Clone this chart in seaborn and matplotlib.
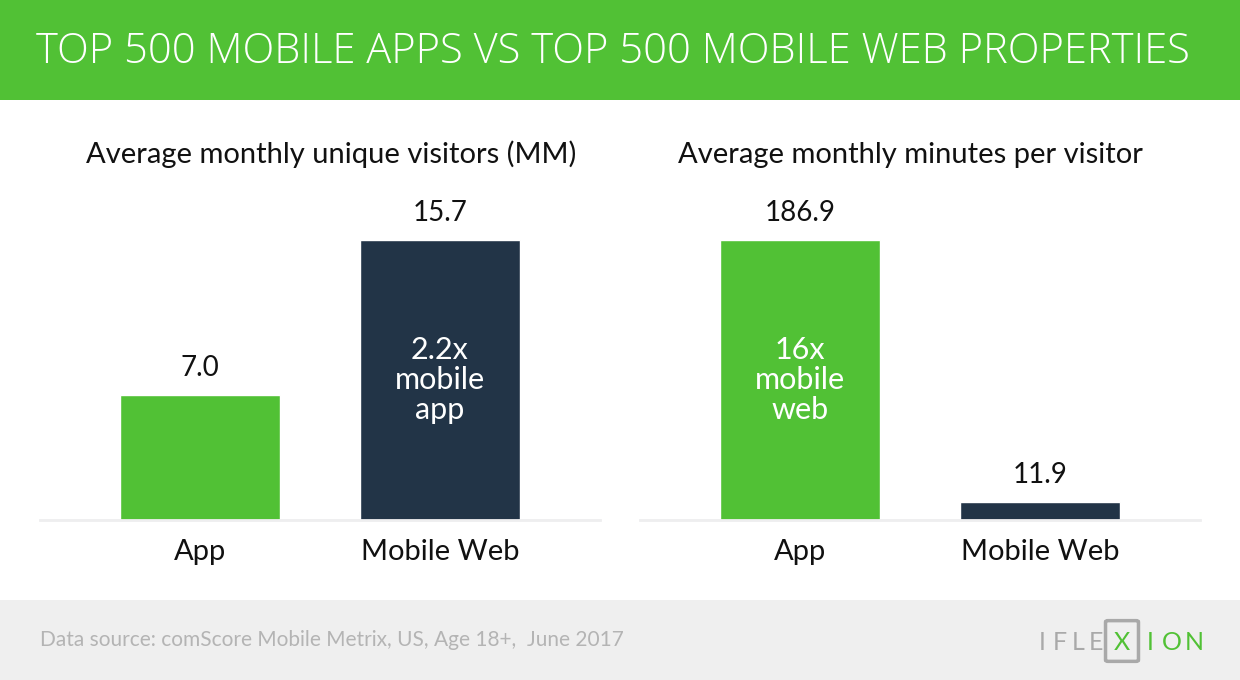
import matplotlib
matplotlib.use("Agg")
import matplotlib.pyplot as plt
from matplotlib.patches import Rectangle, FancyBboxPatch
import seaborn as sns

# data
categories = ["App", "Mobile Web"]
visitors_mm = [7.0, 15.7]
minutes_per_visitor = [186.9, 11.9]
panel_titles = ["Average monthly unique visitors (MM)", "Average monthly minutes per visitor"]
inner_notes = ["2.2x\nmobile\napp", "16x\nmobile\nweb"]
main_title = "TOP 500 MOBILE APPS VS TOP 500 MOBILE WEB PROPERTIES"
source_note = "Data source: comScore Mobile Metrix, US, Age 18+,  June 2017"

GREEN = "#51c135"
NAVY = "#223447"
FOOTER_BG = "#efefef"

sns.set_theme(style="white")
plt.rcParams["font.family"] = ["Lato", "DejaVu Sans"]

fig = plt.figure(figsize=(12.4, 6.8), dpi=100)
fig.patch.set_facecolor("white")

# header band and footer band
fig.patches.append(Rectangle((0, 1 - 100 / 680), 1, 100 / 680, transform=fig.transFigure,
                             facecolor=GREEN, edgecolor="none", zorder=0))
fig.patches.append(Rectangle((0, 0), 1, 80 / 680, transform=fig.transFigure,
                             facecolor=FOOTER_BG, edgecolor="none", zorder=0))

fig.text(0.494, 1 - 52 / 680, main_title, color="white", fontsize=30, fontweight=300,
         family=["Open Sans", "Lato", "DejaVu Sans"], ha="center", va="center")

panels = [
    (40, visitors_mm, 19.06, 1, inner_notes[0], panel_titles[0], 0.5 + 11 / 560),
    (640, minutes_per_visitor, 227.0, 0, inner_notes[1], panel_titles[1], 0.5 - 10 / 560),
]

for left_px, values, ymax, note_idx, note, title, title_x in panels:
    ax = fig.add_axes([left_px / 1240, 160 / 680, 560 / 1240, 340 / 680])
    sns.barplot(x=categories, y=values, hue=categories, palette=[GREEN, NAVY],
                width=0.667, legend=False, ax=ax, saturation=1)
    ax.set_xlim(-0.667, 1.667)
    ax.set_ylim(0, ymax)
    ax.set_facecolor("none")
    for side in ["top", "right", "left"]:
        ax.spines[side].set_visible(False)
    ax.spines["bottom"].set_color("#eeeeef")
    ax.spines["bottom"].set_linewidth(2)
    ax.set_yticks([])
    ax.set_ylabel("")
    ax.tick_params(axis="x", length=0, pad=14, labelsize=21, labelcolor="#111111")
    for c in ax.containers:
        ax.bar_label(c, fmt="%.1f", padding=10, fontsize=20, color="#111111")
    ax.text(note_idx, values[note_idx] / 2, note, color="white", fontsize=22,
            ha="center", va="center", linespacing=1.08)
    ax.set_title(title, fontsize=21, color="#111111", pad=0, x=title_x, y=1.0 + 17 / 340)

# footer
fig.text(40 / 1240, 40 / 680, source_note, color="#b4b4b4", fontsize=15, ha="left", va="center")

# logo
logo_y = 38 / 680
for i, ch in enumerate("IFLE"):
    fig.text((1042 + i * 18) / 1240, logo_y, ch, color="#a9a9a9", fontsize=18, ha="center", va="center")
fig.patches.append(FancyBboxPatch((1108 / 1240, 20 / 680), 28 / 1240, 38 / 680,
                                  boxstyle="round,pad=0.002", transform=fig.transFigure,
                                  facecolor="none", edgecolor="#a9a9a9", linewidth=2.5))
fig.text(1122 / 1240, logo_y, "X", color=GREEN, fontsize=18, ha="center", va="center")
for i, ch in enumerate("ION"):
    fig.text((1150 + i * 22) / 1240, logo_y, ch, color=GREEN, fontsize=18,
             ha="center", va="center")

fig.savefig("out.png", dpi=100)
